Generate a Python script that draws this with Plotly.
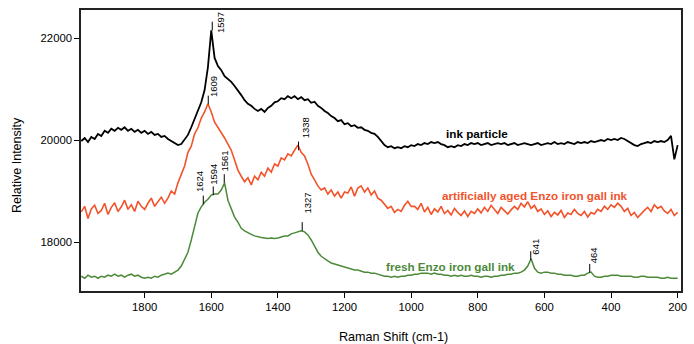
import plotly.graph_objects as go

wavenumber = list(range(1990, 195, -10))  # 1990 ... 200 cm-1

ink_particle = [
    19980, 20040, 19960, 20060, 20020, 20120, 20080, 20180, 20140, 20220,
    20180, 20240, 20200, 20250, 20180, 20220, 20160, 20200, 20140, 20180,
    20120, 20160, 20100, 20120, 20060, 20080, 20020, 19980, 19940, 19900,
    19920, 20000, 20100, 20250, 20410, 20590, 20740, 20980, 21430, 22150,
    21610, 21450, 21370, 21250, 21200, 21140, 21060, 20980, 20880, 20780,
    20710, 20670, 20610, 20570, 20610, 20550, 20630, 20670, 20740, 20760,
    20820, 20800, 20860, 20820, 20860, 20800, 20840, 20780, 20800, 20730,
    20750, 20670, 20630, 20570, 20530, 20470, 20430, 20370, 20390, 20310,
    20330, 20270, 20290, 20240, 20250, 20200, 20180, 20140, 20120, 20060,
    19980, 19900, 19860, 19880, 19840, 19860, 19840, 19880, 19860, 19900,
    19880, 19920, 19900, 19940, 19920, 19960, 19940, 19960, 19920, 19900,
    19860, 19880, 19860, 19900, 19880, 19920, 19900, 19940, 19920, 19940,
    19900, 19920, 19940, 19900, 19920, 19940, 19920, 19940, 19900, 19920,
    19940, 19900, 19920, 19940, 19920, 19900, 19920, 19940, 19900, 19920,
    19940, 19920, 19960, 19920, 19940, 19920, 19960, 19940, 19920, 19960,
    19940, 19960, 19940, 19980, 19960, 19980, 20000, 19980, 20020, 20000,
    20020, 20000, 20040, 20020, 19980, 19940, 19900, 19880, 19920, 19940,
    19960, 19940, 19980, 19960, 19980, 19960, 20000, 20080, 19620, 19900,
]

aged_ink = [
    18590, 18700, 18460, 18650, 18720, 18560, 18620, 18760, 18540, 18680,
    18770, 18600, 18690, 18820, 18640, 18730, 18600, 18800, 18700, 18640,
    18760, 18860, 18700, 18790, 18880, 18760, 18860, 19000, 18940, 19160,
    19310, 19490, 19760, 19880, 20120, 20240, 20430, 20550, 20710, 20550,
    20350, 20250, 20140, 20040, 19920, 19800, 19610, 19410, 19290, 19180,
    19260, 19120, 19290, 19220, 19370, 19290, 19450, 19370, 19530, 19490,
    19650, 19610, 19730, 19690, 19800, 19900, 19760, 19690, 19530, 19330,
    19220, 19100, 19020, 19060, 18940, 19020, 18900, 18980, 18860, 18980,
    18960, 19080, 18900, 19060, 19100, 18980, 19060, 18920, 19000, 18860,
    18820, 18740, 18660, 18700, 18580, 18640, 18600, 18720, 18800, 18700,
    18700, 18640, 18760, 18590, 18680, 18540, 18650, 18590, 18700, 18560,
    18620, 18530, 18660, 18580, 18520, 18610, 18500, 18600, 18560, 18650,
    18570, 18680, 18600, 18720, 18640, 18560, 18680, 18610, 18550, 18630,
    18700, 18640, 18760, 18690, 18790, 18660, 18720, 18600, 18650, 18540,
    18610, 18500, 18580, 18530, 18620, 18480, 18570, 18540, 18640, 18560,
    18520, 18600, 18490, 18580, 18550, 18640, 18600, 18700, 18640, 18730,
    18680, 18760, 18700, 18600, 18660, 18520, 18580, 18480, 18560, 18620,
    18680, 18600, 18730, 18660, 18700, 18610, 18560, 18640, 18520, 18580,
]

fresh_ink = [
    17330, 17290, 17350, 17310, 17330, 17290, 17330, 17310, 17350, 17330,
    17370, 17330, 17350, 17310, 17350, 17370, 17330, 17350, 17310, 17290,
    17310, 17290, 17330, 17310, 17350, 17370, 17390, 17370, 17410, 17450,
    17530, 17650, 17800, 18040, 18330, 18570, 18690, 18780, 18840, 18920,
    18940, 18940, 19020, 19160, 18820, 18670, 18490, 18390, 18270, 18220,
    18180, 18150, 18120, 18100, 18090, 18080, 18070, 18080, 18070, 18080,
    18100, 18120, 18120, 18160, 18180, 18200, 18220, 18200, 18140, 18040,
    17920, 17800, 17720, 17670, 17630, 17590, 17570, 17550, 17530, 17510,
    17490, 17470, 17450, 17450, 17430, 17410, 17410, 17390, 17390, 17370,
    17350, 17330, 17330, 17310, 17330, 17310, 17330, 17330, 17350, 17350,
    17370, 17370, 17390, 17390, 17390, 17370, 17390, 17370, 17370, 17350,
    17350, 17330, 17350, 17330, 17350, 17330, 17330, 17350, 17330, 17330,
    17310, 17330, 17330, 17310, 17330, 17330, 17350, 17350, 17370, 17370,
    17390, 17390, 17410, 17450, 17530, 17670, 17490, 17410, 17390, 17410,
    17410, 17390, 17390, 17370, 17370, 17350, 17350, 17350, 17330, 17330,
    17350, 17350, 17390, 17410, 17330, 17310, 17310, 17330, 17330, 17350,
    17350, 17350, 17330, 17330, 17330, 17330, 17310, 17310, 17330, 17330,
    17310, 17310, 17310, 17310, 17290, 17290, 17310, 17290, 17290, 17290,
]

peak_wn = [1597, 1609, 1338, 1624, 1594, 1561, 1327, 641, 464]
peak_int = [22150, 20700, 19800, 18740, 18920, 19160, 18220, 17650, 17400]
peak_labels = [str(p) for p in peak_wn]

series_names = ["ink particle", "artificially aged Enzo iron gall ink", "fresh Enzo iron gall ink"]
series_label_wn = [801, 627, 881]
series_label_int = [20137, 18922, 17511]

x_ticks = [1800, 1600, 1400, 1200, 1000, 800, 600, 400, 200]
y_ticks = [18000, 20000, 22000]

# style: label offsets in pixels (right shift, height of text bottom above the peak)
label_dx = [9, 6, 7, -3, 0, 0, 5, 5, 4]
label_dy = [-5, 5, 10, 10, 8, 9, 15, 3, 7]

BLACK = "#000000"
RED = "#F2532B"
GREEN = "#4C8A3A"
colors = [BLACK, RED, GREEN]
widths = [1.8, 1.6, 1.5]
FONT = "Liberation Sans, Arial, Helvetica, sans-serif"

fig = go.Figure()
for vals, col, wd, name in zip([ink_particle, aged_ink, fresh_ink], colors, widths, series_names):
    fig.add_trace(go.Scatter(x=wavenumber, y=vals, mode="lines", name=name,
                             line=dict(color=col, width=wd), hoverinfo="skip"))

# peak marker ticks
tick_len = 170
tx, ty = [], []
for w, v in zip(peak_wn, peak_int):
    tx += [w, w, None]
    ty += [v, v + tick_len, None]
fig.add_trace(go.Scatter(x=tx, y=ty, mode="lines", line=dict(color="black", width=1),
                         hoverinfo="skip", showlegend=False))

annotations = []
for w, v, lab, dx, dy in zip(peak_wn, peak_int, peak_labels, label_dx, label_dy):
    annotations.append(dict(x=w, y=v, text=lab, showarrow=False, textangle=-90,
                            xanchor="center", yanchor="bottom", xshift=dx, yshift=dy,
                            font=dict(family=FONT, size=9.5, color="black")))
for name, w, v, col in zip(series_names, series_label_wn, series_label_int, colors):
    annotations.append(dict(x=w, y=v, text="<b>" + name + "</b>", showarrow=False,
                            xanchor="center", yanchor="middle",
                            font=dict(family=FONT, size=11.7, color=col)))
annotations.append(dict(xref="paper", yref="paper", x=-0.107, y=0.448, text="Relative Intensity",
                        textangle=-90, showarrow=False, xanchor="center", yanchor="middle",
                        font=dict(family=FONT, size=12.5, color="black")))
annotations.append(dict(xref="paper", yref="paper", x=0.521, y=-0.164, text="Raman Shift (cm-1)",
                        showarrow=False, xanchor="center", yanchor="middle",
                        font=dict(family=FONT, size=12.6, color="black")))

fig.update_layout(
    width=694, height=344,
    margin=dict(l=81, r=7, t=10, b=53),
    paper_bgcolor="white", plot_bgcolor="white",
    showlegend=False,
    annotations=annotations,
    font=dict(family=FONT, size=11.3, color="black"),
)
fig.update_xaxes(range=[1991, 190], tickvals=x_ticks, ticktext=[str(t) for t in x_ticks],
                 ticks="outside", ticklen=5, tickwidth=1, tickcolor="black",
                 showgrid=False, zeroline=False, showline=True, linecolor="#222",
                 linewidth=1.5, mirror=True, tickfont=dict(size=11.3))
fig.update_yaxes(range=[17040, 22549], tickvals=y_ticks, ticktext=[str(t) for t in y_ticks],
                 ticks="outside", ticklen=5, tickwidth=1, tickcolor="black",
                 showgrid=False, zeroline=False, showline=True, linecolor="#222",
                 linewidth=1.5, mirror=True, tickfont=dict(size=11.3))

fig.write_html("out.html")
